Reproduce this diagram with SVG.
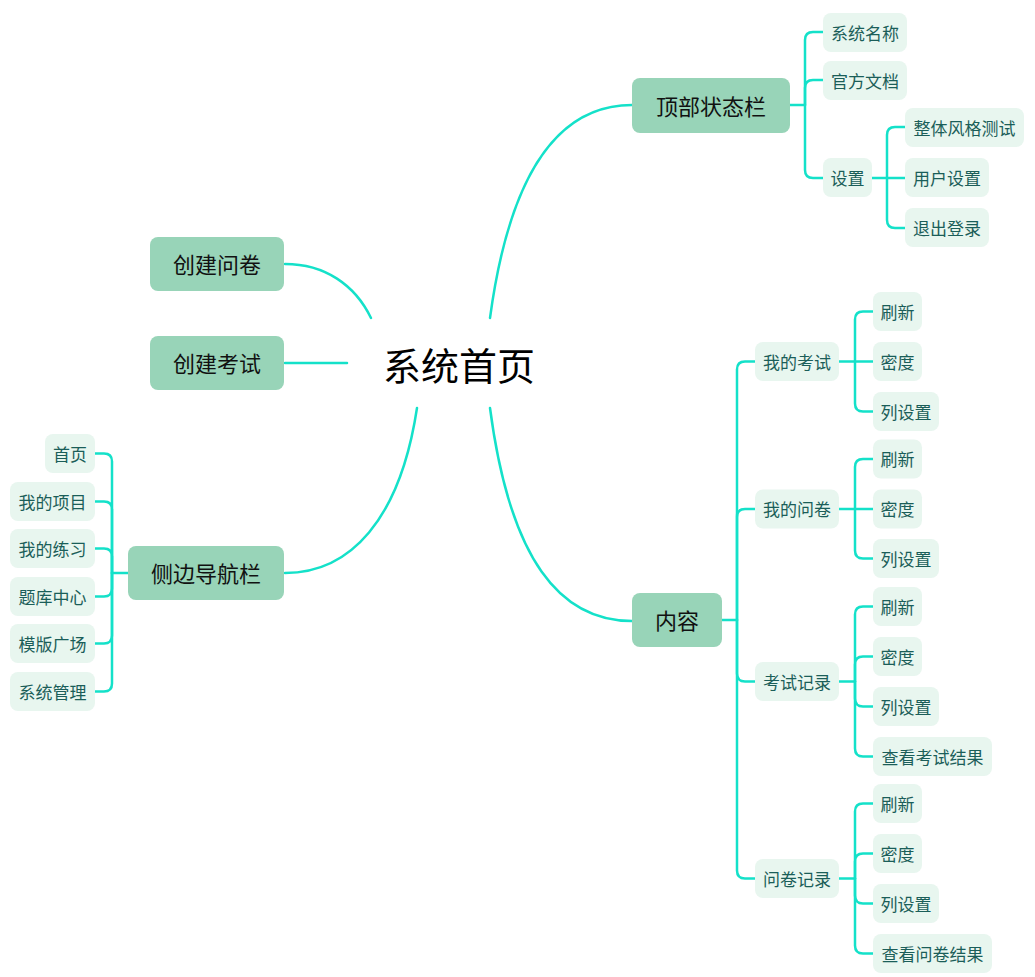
<svg xmlns="http://www.w3.org/2000/svg" width="1035" height="977" viewBox="0 0 1035 977">
<style>
text{font-family:"Noto Sans CJK SC","Noto Sans",sans-serif;text-anchor:middle;dominant-baseline:central}
.m rect{fill:#98d4b8}
.m text{font-size:22px;fill:#111}
.s rect{fill:#e8f6ef}
.s text{font-size:17px;fill:#1b5e59}
.c path{fill:none;stroke:#14e1c9;stroke-width:2.5;stroke-linecap:round;stroke-linejoin:round}
</style>
<rect width="1035" height="977" fill="#fff"/>
<g class="c" id="connectors">
<path d="M490,318 C510,170 560,105 632,105"/>
<path d="M490,408 C510,560 560,621 632,621"/>
<path d="M417,408 C400,520 350,573 285,573"/>
<path d="M371,318 C355,285 325,264 285,264"/>
<path d="M347,363 L285,363"/>
<path d="M790,105 H805 V40 Q805,32 813,32 H823"/>
<path d="M805,105 V88 Q805,80 813,80 H823"/>
<path d="M805,105 V170 Q805,178 813,178 H823"/>
<path d="M872,178 H887 V135 Q887,127 895,127 H905"/>
<path d="M887,178 H905"/>
<path d="M887,178 V220 Q887,228 895,228 H905"/>
<path d="M128,573 H112 V461.5 Q112,453.5 104,453.5 H95"/>
<path d="M112,573 V509.5 Q112,501.5 104,501.5 H95"/>
<path d="M112,573 V556.5 Q112,548.5 104,548.5 H95"/>
<path d="M112,573 V588.5 Q112,596.5 104,596.5 H95"/>
<path d="M112,573 V635.5 Q112,643.5 104,643.5 H95"/>
<path d="M112,573 V683.5 Q112,691.5 104,691.5 H95"/>
<path d="M722,620 H737 V369.5 Q737,361.5 745,361.5 H755"/>
<path d="M737,620 V517 Q737,509 745,509 H755"/>
<path d="M737,620 V673.5 Q737,681.5 745,681.5 H755"/>
<path d="M737,620 V870.5 Q737,878.5 745,878.5 H755"/>
<path d="M839,361.5 H855 V319.5 Q855,311.5 863,311.5 H873"/>
<path d="M855,361.5 H873"/>
<path d="M855,361.5 V403.5 Q855,411.5 863,411.5 H873"/>
<path d="M839,509 H855 V467 Q855,459 863,459 H873"/>
<path d="M855,509 H873"/>
<path d="M855,509 V550.5 Q855,558.5 863,558.5 H873"/>
<path d="M839,681.5 H855 V614.5 Q855,606.5 863,606.5 H873"/>
<path d="M855,681.5 V664.5 Q855,656.5 863,656.5 H873"/>
<path d="M855,681.5 V698.5 Q855,706.5 863,706.5 H873"/>
<path d="M855,681.5 V748.5 Q855,756.5 863,756.5 H873"/>
<path d="M839,878.5 H855 V811.5 Q855,803.5 863,803.5 H873"/>
<path d="M855,878.5 V861.5 Q855,853.5 863,853.5 H873"/>
<path d="M855,878.5 V895.5 Q855,903.5 863,903.5 H873"/>
<path d="M855,878.5 V945.5 Q855,953.5 863,953.5 H873"/>
</g>
<g id="root"><text x="459" y="363" style="font-size:38px;fill:#000">系统首页</text></g>
<g class="m" id="n-top"><rect x="632" y="78" width="158" height="55" rx="8"/><text x="711" y="104.5">顶部状态栏</text></g>
<g class="m" id="n-content"><rect x="632" y="593" width="90" height="54" rx="8"/><text x="677" y="619">内容</text></g>
<g class="m" id="n-side"><rect x="128" y="546" width="156" height="54" rx="8"/><text x="206" y="572">侧边导航栏</text></g>
<g class="m" id="n-cq"><rect x="150" y="237" width="134" height="54" rx="8"/><text x="217" y="263">创建问卷</text></g>
<g class="m" id="n-ce"><rect x="150" y="336" width="134" height="54" rx="8"/><text x="217" y="362">创建考试</text></g>

<g class="s" id="n-sysname"><rect x="823" y="13" width="84" height="39" rx="8"/><text x="865" y="32">系统名称</text></g>
<g class="s" id="n-doc"><rect x="823" y="61" width="84" height="39" rx="8"/><text x="865" y="80">官方文档</text></g>
<g class="s" id="n-set"><rect x="823" y="158" width="49" height="39" rx="8"/><text x="847.5" y="177">设置</text></g>
<g class="s" id="n-style"><rect x="905" y="108" width="119" height="39" rx="8"/><text x="964.5" y="127">整体风格测试</text></g>
<g class="s" id="n-user"><rect x="905" y="158" width="84" height="39" rx="8"/><text x="947" y="177">用户设置</text></g>
<g class="s" id="n-logout"><rect x="905" y="208" width="84" height="39" rx="8"/><text x="947" y="227">退出登录</text></g>

<g class="s" id="n-home"><rect x="45" y="434" width="50" height="39" rx="8"/><text x="70" y="453">首页</text></g>
<g class="s" id="n-proj"><rect x="10" y="482" width="85" height="39" rx="8"/><text x="52.5" y="501">我的项目</text></g>
<g class="s" id="n-prac"><rect x="10" y="529" width="85" height="39" rx="8"/><text x="52.5" y="548">我的练习</text></g>
<g class="s" id="n-bank"><rect x="10" y="577" width="85" height="39" rx="8"/><text x="52.5" y="596">题库中心</text></g>
<g class="s" id="n-tpl"><rect x="10" y="624" width="85" height="39" rx="8"/><text x="52.5" y="643">模版广场</text></g>
<g class="s" id="n-admin"><rect x="10" y="672" width="85" height="39" rx="8"/><text x="52.5" y="691">系统管理</text></g>

<g class="s" id="n-myexam"><rect x="755" y="342" width="84" height="39" rx="8"/><text x="797" y="361">我的考试</text></g>
<g class="s" id="n-myq"><rect x="755" y="489.5" width="84" height="39" rx="8"/><text x="797" y="508.5">我的问卷</text></g>
<g class="s" id="n-examrec"><rect x="755" y="662" width="84" height="39" rx="8"/><text x="797" y="681">考试记录</text></g>
<g class="s" id="n-qrec"><rect x="755" y="859" width="84" height="39" rx="8"/><text x="797" y="878">问卷记录</text></g>

<g class="s" id="n-me-1"><rect x="873" y="292" width="49" height="39" rx="8"/><text x="897.5" y="311">刷新</text></g>
<g class="s" id="n-me-2"><rect x="873" y="342" width="49" height="39" rx="8"/><text x="897.5" y="361">密度</text></g>
<g class="s" id="n-me-3"><rect x="873" y="392" width="66" height="39" rx="8"/><text x="906" y="411">列设置</text></g>

<g class="s" id="n-mq-1"><rect x="873" y="439.5" width="49" height="39" rx="8"/><text x="897.5" y="458.5">刷新</text></g>
<g class="s" id="n-mq-2"><rect x="873" y="489.5" width="49" height="39" rx="8"/><text x="897.5" y="508.5">密度</text></g>
<g class="s" id="n-mq-3"><rect x="873" y="539" width="66" height="39" rx="8"/><text x="906" y="558">列设置</text></g>

<g class="s" id="n-er-1"><rect x="873" y="587" width="49" height="39" rx="8"/><text x="897.5" y="606">刷新</text></g>
<g class="s" id="n-er-2"><rect x="873" y="637" width="49" height="39" rx="8"/><text x="897.5" y="656">密度</text></g>
<g class="s" id="n-er-3"><rect x="873" y="687" width="66" height="39" rx="8"/><text x="906" y="706">列设置</text></g>
<g class="s" id="n-er-4"><rect x="873" y="737" width="119" height="39" rx="8"/><text x="932.5" y="756">查看考试结果</text></g>

<g class="s" id="n-qr-1"><rect x="873" y="784" width="49" height="39" rx="8"/><text x="897.5" y="803">刷新</text></g>
<g class="s" id="n-qr-2"><rect x="873" y="834" width="49" height="39" rx="8"/><text x="897.5" y="853">密度</text></g>
<g class="s" id="n-qr-3"><rect x="873" y="884" width="66" height="39" rx="8"/><text x="906" y="903">列设置</text></g>
<g class="s" id="n-qr-4"><rect x="873" y="934" width="119" height="39" rx="8"/><text x="932.5" y="953">查看问卷结果</text></g>
</svg>
